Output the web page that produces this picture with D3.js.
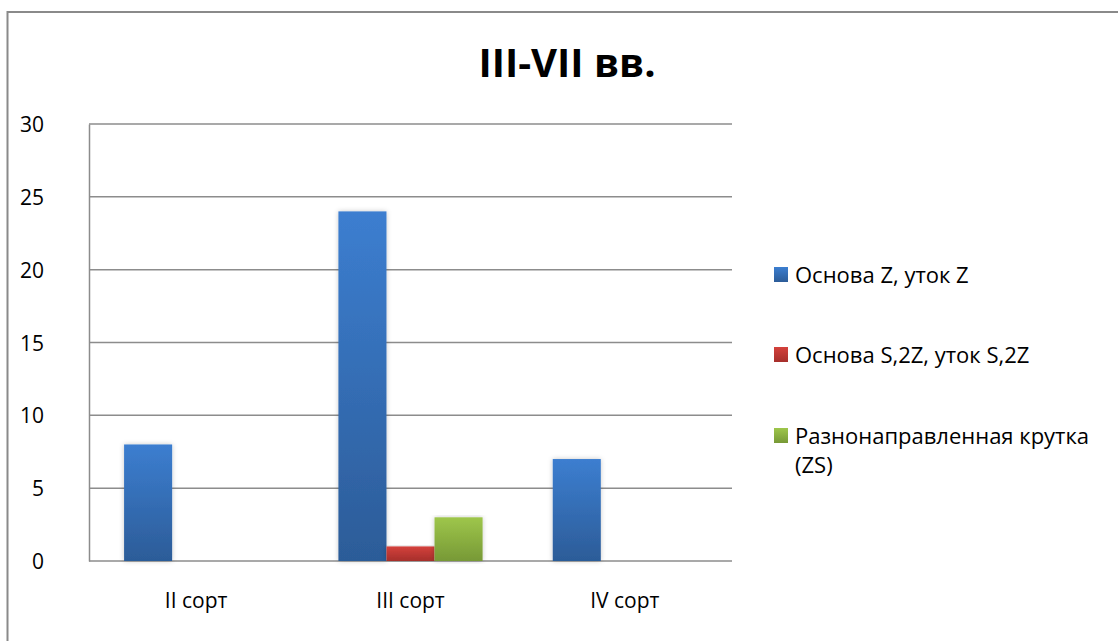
<!DOCTYPE html>
<html>
<head>
<meta charset="utf-8">
<script src="https://cdn.jsdelivr.net/npm/d3@7"></script>
<style>
  html, body { margin: 0; padding: 0; background: #fff; }
  svg { display: block; }
  text { font-family: "Open Sans", "DejaVu Sans", sans-serif; fill: #000; }
</style>
</head>
<body>
<svg id="chart" width="1118" height="641"></svg>
<script>
// ---- data ----
const title = "III-VII вв.";
const categories = ["II сорт", "III сорт", "IV сорт"];
const seriesNames = [["Основа Z, уток Z"], ["Основа S,2Z, уток S,2Z"], ["Разнонаправленная крутка", "(ZS)"]];
const seriesZ = [8, 24, 7];
const seriesS2Z = [0, 1, 0];
const seriesZS = [0, 3, 0];
const yTicks = [0, 5, 10, 15, 20, 25, 30];

const seriesValues = [seriesZ, seriesS2Z, seriesZS];
const colorsTop = ["#3c7ed0", "#d4413c", "#9ec64b"];
const colorsBottom = ["#2c5c98", "#a62f2b", "#779936"];

const svg = d3.select("#chart");
const defs = svg.append("defs");
colorsTop.forEach((c, i) => {
  const g = defs.append("linearGradient").attr("id", "grad" + i)
    .attr("x1", 0).attr("y1", 0).attr("x2", 0).attr("y2", 1);
  g.append("stop").attr("offset", "0%").attr("stop-color", c);
  g.append("stop").attr("offset", "100%").attr("stop-color", colorsBottom[i]);
});
const f = defs.append("filter").attr("id", "shadow")
  .attr("x", "-20%").attr("y", "-5%").attr("width", "140%").attr("height", "110%");
f.append("feDropShadow").attr("dx", 0).attr("dy", 0).attr("stdDeviation", 2.5)
  .attr("flood-color", "#000").attr("flood-opacity", 0.22);

// outer frame
svg.append("rect").attr("x", 7.5).attr("y", 12).attr("width", 1140).attr("height", 660)
  .attr("fill", "none").attr("stroke", "#8a8a8a").attr("stroke-width", 2);

// title
svg.append("text").attr("x", 567).attr("y", 77).attr("text-anchor", "middle")
  .attr("font-size", 40).attr("font-weight", "bold").text(title);

const plot = { left: 89, right: 732, top: 124, bottom: 561 };

const x0 = d3.scaleBand().domain(categories).range([plot.left, plot.right]).paddingInner(0).paddingOuter(0);
const x1 = d3.scaleBand().domain(d3.range(seriesValues.length))
  .range([0, x0.bandwidth()]).paddingOuter(0.73).paddingInner(0);
const y = d3.scaleLinear().domain([0, 30]).range([plot.bottom, plot.top]);

// gridlines
svg.append("g").selectAll("line").data(yTicks).join("line")
  .attr("x1", plot.left).attr("x2", plot.right)
  .attr("y1", d => y(d)).attr("y2", d => y(d))
  .attr("stroke", "#8c8c8c").attr("stroke-width", 1.5);

// y axis
const yAxis = d3.axisLeft(y).tickValues(yTicks).tickSize(0).tickPadding(0);
const ya = svg.append("g").attr("transform", `translate(${plot.left},0)`).call(yAxis);
ya.select(".domain").attr("stroke", "#8c8c8c").attr("stroke-width", 1.5);
ya.selectAll("text").attr("x", -45).attr("dy", "0.36em").attr("font-size", 21)
  .attr("font-family", "Open Sans").attr("fill", "#000");

// bars
const groups = svg.append("g").selectAll("g").data(categories).join("g")
  .attr("transform", d => `translate(${x0(d)},0)`);
groups.selectAll("rect")
  .data((d, ci) => seriesValues.map((s, si) => ({ si, v: s[ci] })).filter(o => o.v > 0))
  .join("rect")
  .attr("x", o => x1(o.si)).attr("width", x1.bandwidth())
  .attr("y", o => y(o.v)).attr("height", o => y(0) - y(o.v))
  .attr("fill", o => `url(#grad${o.si})`)
  .attr("filter", "url(#shadow)");

// x axis labels
const xAxis = d3.axisBottom(x0).tickSize(0).tickPadding(0);
const xa = svg.append("g").attr("transform", `translate(0,${plot.bottom})`).call(xAxis);
xa.select(".domain").remove();
xa.selectAll("text").attr("y", 47).attr("dy", 0).attr("font-size", 21)
  .attr("font-family", "Open Sans").attr("fill", "#000");

// legend
const legendY = [267, 347, 428];
const legend = svg.append("g");
seriesNames.forEach((lines, i) => {
  legend.append("rect").attr("x", 774).attr("y", legendY[i]).attr("width", 14).attr("height", 15)
    .attr("fill", `url(#grad${i})`);
  lines.forEach((t, j) => {
    legend.append("text").attr("x", 795).attr("y", legendY[i] + 16 + j * 29)
      .attr("font-size", 22).text(t);
  });
});
</script>
</body>
</html>
